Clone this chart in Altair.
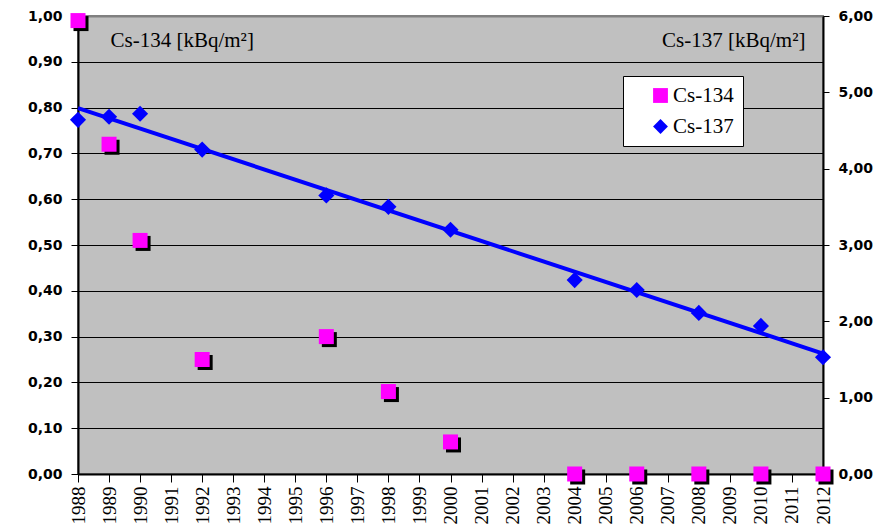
import altair as alt
import pandas as pd

years_134 = [1988, 1989, 1990, 1992, 1996, 1998, 2000, 2004, 2006, 2008, 2010, 2012]
cs134 = [0.99, 0.72, 0.51, 0.25, 0.30, 0.18, 0.07, 0.0, 0.0, 0.0, 0.0, 0.0]
years_137 = [1988, 1989, 1990, 1992, 1996, 1998, 2000, 2004, 2006, 2008, 2010, 2012]
cs137 = [4.64, 4.68, 4.72, 4.25, 3.65, 3.50, 3.20, 2.54, 2.41, 2.11, 1.94, 1.53]
year_ticks = list(range(1988, 2013))
left_ticks = [round(i * 0.1, 1) for i in range(11)]
right_ticks = [0, 1, 2, 3, 4, 5, 6]

df134 = pd.DataFrame({"year": years_134, "value": cs134, "series": "Cs-134"})
df137 = pd.DataFrame({"year": years_137, "value": cs137, "series": "Cs-137"})

comma = "replace(format(datum.value, '.2f'), '.', ',')"
SERIF = "Liberation Serif, Times New Roman, serif"

x = alt.X("year:Q", scale=alt.Scale(domain=[1988, 2012], nice=False),
          axis=alt.Axis(values=year_ticks, format="d", labelAngle=270, title=None,
                        grid=False, labelFont=SERIF, labelFontSize=19,
                        labelColor="black", tickColor="black", tickSize=8,
                        labelPadding=4, domainColor="black", domainWidth=2,
                        labelFontWeight="normal"))

color = alt.Color("series:N", scale=alt.Scale(domain=["Cs-134", "Cs-137"],
                                               range=["#FF00FF", "#0000FF"]),
                  legend=alt.Legend(title=None, orient="none", legendX=545, legendY=60,
                                    fillColor="white", strokeColor="black",
                                    padding=9, labelFont=SERIF,
                                    labelFontSize=21, labelColor="black",
                                    symbolSize=220, symbolOffset=18, labelOffset=2,
                                    rowPadding=9, symbolStrokeWidth=0))
shape = alt.Shape("series:N", scale=alt.Scale(domain=["Cs-134", "Cs-137"],
                                               range=["square", "diamond"]))

grid_color = {"condition": {"test": "datum.value >= 1", "value": "#808080"}, "value": "black"}
grid_width = {"condition": {"test": "datum.value >= 1", "value": 2}, "value": 1}

y_left = alt.Y("value:Q", scale=alt.Scale(domain=[0, 1], nice=False),
               axis=alt.Axis(values=left_ticks, labelExpr=comma, orient="left",
                             title="Cs-134 [kBq/m²]", titleAngle=0, titleX=32, titleY=24,
                             titleAlign="left", titleBaseline="middle",
                             titleFont=SERIF, titleFontSize=21,
                             titleFontWeight="normal", titleColor="black",
                             labelFont="DejaVu Sans", labelFontSize=14,
                             labelFontWeight="bold", labelColor="black",
                             tickColor="black", tickSize=7, labelPadding=9,
                             domainColor="black", domainWidth=2,
                             grid=True, gridColor=grid_color, gridWidth=grid_width,
                             gridOpacity=1))

shadow = alt.Chart(df134).mark_point(filled=True, shape="square", size=225,
                                     color="black", opacity=1,
                                     xOffset=3, yOffset=3).encode(x=x, y=y_left)
squares = alt.Chart(df134).mark_point(filled=True, size=225, opacity=1).encode(
    x=x, y=y_left, color=color, shape=shape)
layer134 = alt.layer(shadow, squares)

y_right = alt.Y("value:Q", scale=alt.Scale(domain=[0, 6], nice=False),
                axis=alt.Axis(values=right_ticks, labelExpr=comma, orient="right",
                              title="Cs-137 [kBq/m²]", titleAngle=0, titleX=-18, titleY=24,
                              titleAlign="right", titleBaseline="middle",
                              titleFont=SERIF, titleFontSize=21,
                              titleFontWeight="normal", titleColor="black",
                              labelFont="DejaVu Sans", labelFontSize=14,
                              labelFontWeight="bold", labelColor="black",
                              tickColor="black", tickSize=6, labelPadding=9,
                              domainColor="black", domainWidth=2, grid=False))

trend = alt.Chart(df137).transform_regression(
    "year", "value", method="linear", extent=[1988, 2012]
).mark_line(color="#0000FF", strokeWidth=4).encode(x=x, y=y_right)
diamonds = alt.Chart(df137).mark_point(filled=True, size=260, opacity=1).encode(
    x=x, y=y_right, color=color, shape=shape)
layer137 = alt.layer(trend, diamonds)

chart = alt.layer(layer134, layer137).resolve_scale(y="independent").properties(
    width=745, height=458,
    autosize=alt.AutoSizeParams(type="none"),
    padding={"left": 70, "top": 8, "right": 54, "bottom": 50},
    background="white",
).configure_view(fill="#C0C0C0", stroke="#808080", strokeWidth=2)

chart.save("out.html", embed_options={"renderer": "svg", "actions": False})
